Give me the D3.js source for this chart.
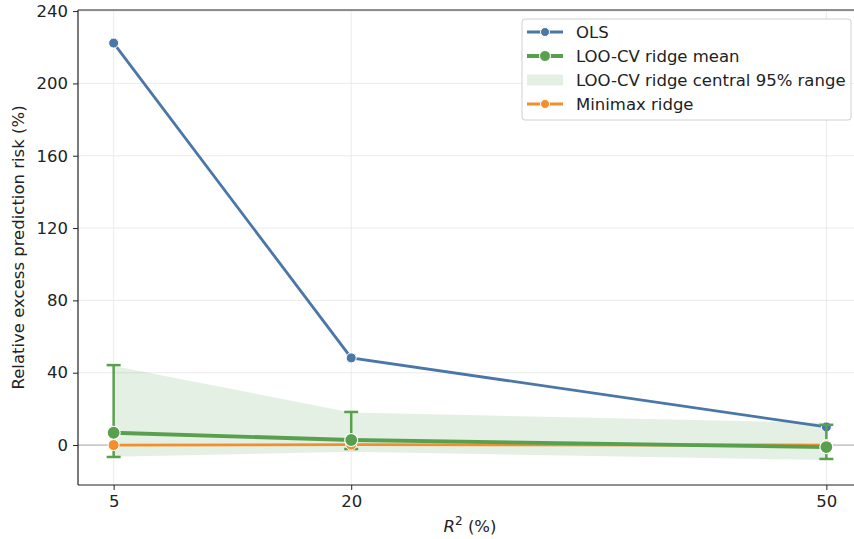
<!DOCTYPE html>
<html>
<head>
<meta charset="utf-8">
<script src="https://cdn.jsdelivr.net/npm/d3@7"></script>
<style>
  html, body { margin: 0; padding: 0; background: #fff; }
  svg { display: block; font-family: "DejaVu Sans", sans-serif; }
</style>
</head>
<body>
<svg id="chart" width="854" height="539"></svg>
<script>
// R^2 levels (%)
const r2 = [5, 20, 50];
// Relative excess prediction risk (%)
const olsRisk = [222.3, 48.2, 10.0];
const looMean = [6.8, 2.8, -1.1];
const looErrLow = [-6.6, -2.2, -7.7];
const looErrHigh = [44.2, 18.3, 11.2];
const bandLow = [-6.5, -3.7, -8.3];
const bandHigh = [43.7, 18.0, 12.3];
const minimaxRisk = [0.0, 0.2, 0.0];
const xTicks = [5, 20, 50];
const yTicks = [0, 40, 80, 120, 160, 200, 240];

const colors = { ols: "#4a76a8", loo: "#59a04e", band: "#59a04e", minimax: "#f28e2b" };
const FS = "16.5px";

const svg = d3.select("#chart");
const m = { left: 78, top: 10, right: -8, bottom: 54 };
const W = 854, H = 539;

const x = d3.scaleLinear().domain([2.75, 52.25]).range([m.left, W - m.right]);
const y = d3.scaleLinear().domain([-22.1, 240.6]).range([H - m.bottom, m.top]);

const g = svg.append("g");

// grid
g.append("g").selectAll("line").data(yTicks).join("line")
  .attr("x1", m.left).attr("x2", W - m.right)
  .attr("y1", d => y(d)).attr("y2", d => y(d))
  .attr("stroke", "#e6e6e6").attr("stroke-width", 0.8);
g.append("g").selectAll("line").data(xTicks).join("line")
  .attr("y1", m.top).attr("y2", H - m.bottom)
  .attr("x1", d => x(d)).attr("x2", d => x(d))
  .attr("stroke", "#e6e6e6").attr("stroke-width", 0.8);

// central 95% band
const idx = d3.range(r2.length);
g.append("path")
  .datum(idx)
  .attr("d", d3.area().x(i => x(r2[i])).y0(i => y(bandLow[i])).y1(i => y(bandHigh[i])))
  .attr("fill", colors.band).attr("fill-opacity", 0.16);

// zero reference line
g.append("line")
  .attr("x1", m.left).attr("x2", W - m.right)
  .attr("y1", y(0)).attr("y2", y(0))
  .attr("stroke", "#bdbdbd").attr("stroke-width", 1.2);

const line = vals => d3.line().x(i => x(r2[i])).y(i => y(vals[i]))(idx);

// OLS
g.append("path").attr("d", line(olsRisk)).attr("fill", "none")
  .attr("stroke", colors.ols).attr("stroke-width", 2.8);
g.append("g").selectAll("circle").data(idx).join("circle")
  .attr("cx", i => x(r2[i])).attr("cy", i => y(olsRisk[i])).attr("r", 5)
  .attr("fill", colors.ols).attr("stroke", "#fff").attr("stroke-width", 1);

// LOO-CV error bars
const eb = g.append("g").attr("stroke", colors.loo).attr("stroke-width", 2.5);
eb.selectAll("line.v").data(idx).join("line").attr("class", "v")
  .attr("x1", i => x(r2[i])).attr("x2", i => x(r2[i]))
  .attr("y1", i => y(looErrLow[i])).attr("y2", i => y(looErrHigh[i]));
[looErrLow, looErrHigh].forEach(arr => {
  eb.append("g").selectAll("line").data(idx).join("line")
    .attr("x1", i => x(r2[i]) - 7).attr("x2", i => x(r2[i]) + 7)
    .attr("y1", i => y(arr[i])).attr("y2", i => y(arr[i]));
});

// Minimax ridge
g.append("path").attr("d", line(minimaxRisk)).attr("fill", "none")
  .attr("stroke", colors.minimax).attr("stroke-width", 2.8);
g.append("g").selectAll("circle").data(idx).join("circle")
  .attr("cx", i => x(r2[i])).attr("cy", i => y(minimaxRisk[i])).attr("r", 5.5)
  .attr("fill", colors.minimax).attr("stroke", "#fff").attr("stroke-width", 1);

// LOO-CV ridge mean
g.append("path").attr("d", line(looMean)).attr("fill", "none")
  .attr("stroke", colors.loo).attr("stroke-width", 3.8);
g.append("g").selectAll("circle").data(idx).join("circle")
  .attr("cx", i => x(r2[i])).attr("cy", i => y(looMean[i])).attr("r", 6.5)
  .attr("fill", colors.loo).attr("stroke", "#fff").attr("stroke-width", 1.2);

// axes
const xAxis = d3.axisBottom(x).tickValues(xTicks).tickSize(5).tickPadding(5);
const yAxis = d3.axisLeft(y).tickValues(yTicks).tickSize(5).tickPadding(5);
const gx = svg.append("g").attr("transform", `translate(0,${H - m.bottom})`).call(xAxis);
const gy = svg.append("g").attr("transform", `translate(${m.left},0)`).call(yAxis);
[gx, gy].forEach(a => {
  a.select(".domain").remove();
  a.selectAll("line").attr("stroke", "#222").attr("stroke-width", 1);
  a.selectAll("text").attr("fill", "#222").style("font-size", FS)
    .style("font-family", "'DejaVu Sans', sans-serif");
});
// spines: left, bottom, top
svg.append("line").attr("x1", m.left).attr("x2", m.left).attr("y1", m.top).attr("y2", H - m.bottom)
  .attr("stroke", "#222").attr("stroke-width", 1.2);
svg.append("line").attr("x1", m.left).attr("x2", W).attr("y1", H - m.bottom).attr("y2", H - m.bottom)
  .attr("stroke", "#222").attr("stroke-width", 1.2);
svg.append("line").attr("x1", m.left).attr("x2", W).attr("y1", m.top).attr("y2", m.top)
  .attr("stroke", "#222").attr("stroke-width", 1.2);

// axis labels
svg.append("text")
  .attr("transform", `translate(24,${(m.top + H - m.bottom) / 2}) rotate(-90)`)
  .attr("text-anchor", "middle").attr("fill", "#222").style("font-size", FS)
  .text("Relative excess prediction risk (%)");
const xl = svg.append("text").attr("x", 470).attr("y", 532)
  .attr("text-anchor", "middle").attr("fill", "#222").style("font-size", FS);
xl.append("tspan").attr("font-style", "italic").text("R");
xl.append("tspan").attr("dy", -7).style("font-size", "12px").text("2");
xl.append("tspan").attr("dy", 7).text(" (%)");

// legend
const lg = svg.append("g").attr("transform", "translate(522,19)");
lg.append("rect").attr("width", 329).attr("height", 101).attr("rx", 3)
  .attr("fill", "#fff").attr("fill-opacity", 0.85).attr("stroke", "#d0d0d0");
const items = [
  { label: "OLS", type: "line", color: colors.ols, lw: 2.8, r: 4.5 },
  { label: "LOO-CV ridge mean", type: "line", color: colors.loo, lw: 3.8, r: 5.5 },
  { label: "LOO-CV ridge central 95% range", type: "band", color: colors.band },
  { label: "Minimax ridge", type: "line", color: colors.minimax, lw: 2.8, r: 4.5 }
];
items.forEach((it, i) => {
  const row = lg.append("g").attr("transform", `translate(0,${13 + i * 24})`);
  if (it.type === "line") {
    row.append("line").attr("x1", 5).attr("x2", 41).attr("y1", 0).attr("y2", 0)
      .attr("stroke", it.color).attr("stroke-width", it.lw);
    row.append("circle").attr("cx", 23).attr("cy", 0).attr("r", it.r)
      .attr("fill", it.color).attr("stroke", "#fff").attr("stroke-width", 1);
  } else {
    row.append("rect").attr("x", 5).attr("y", -5.5).attr("width", 36).attr("height", 11)
      .attr("fill", it.color).attr("fill-opacity", 0.16);
  }
  row.append("text").attr("x", 54).attr("y", 0).attr("dy", "0.35em")
    .attr("fill", "#222").style("font-size", FS).text(it.label);
});
</script>
</body>
</html>
